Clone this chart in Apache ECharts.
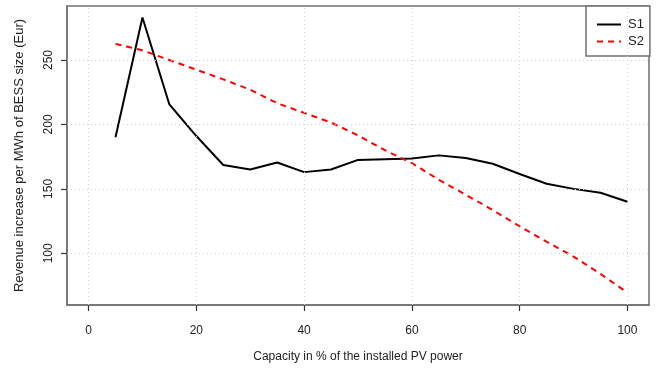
<!DOCTYPE html>
<html>
<head>
<meta charset="utf-8">
<script src="https://cdn.jsdelivr.net/npm/echarts@6/dist/echarts.min.js"></script>
<style>
html,body{margin:0;padding:0;background:#fff;}
#chart{width:660px;height:376px;}
</style>
</head>
<body>
<div id="chart"></div>
<script>
const capacity = [5,10,15,20,25,30,35,40,45,50,55,60,65,70,75,80,85,90,95,100];
const s1 = [190,283,215.5,191,168.5,165,170.5,163,165,172.5,173,173.5,176,174,169.5,161.5,154,150,147,140];
const s2 = [262.5,257.5,250,242.5,235,227,216.5,209,201.5,191.5,180,170,157,145.5,133.5,121,109,97.5,84,69.5];
const xTicks = [0,20,40,60,80,100];
const yTicks = [100,150,200,250];
const seriesNames = ['S1','S2'];
const xTitle = 'Capacity in % of the installed PV power';
const yTitle = 'Revenue increase per MWh of BESS size (Eur)';

const font = 'Liberation Sans, Arial, sans-serif';
const chart = echarts.init(document.getElementById('chart'), null, {renderer:'canvas'});
const gridLines = xTicks.map(v => ({xAxis: v})).concat(yTicks.map(v => ({yAxis: v})));

chart.setOption({
  animation: false,
  backgroundColor: '#fff',
  grid: {left: 67, right: 11, top: 6, bottom: 71, show: true, borderColor: '#707070', borderWidth: 1.5, backgroundColor: 'transparent', outerBoundsMode: 'none'},
  legend: {
    data: seriesNames, left: 586, top: 6, orient: 'vertical',
    padding: [12, 6, 8, 10], itemGap: 4, itemWidth: 24, itemHeight: 14,
    borderColor: '#707070', borderWidth: 1.5, backgroundColor: '#fff',
    itemStyle: {opacity: 0},
    textStyle: {fontFamily: font, fontSize: 13, color: '#222', padding: [0,0,0,2]}
  },
  xAxis: {
    type: 'value', min: -4, max: 104,
    name: xTitle, nameLocation: 'middle', nameGap: 46,
    nameTextStyle: {fontFamily: font, fontSize: 12, color: '#222'},
    axisLine: {show: true, onZero: false, lineStyle: {color: '#707070', width: 1.5}},
    axisTick: {show: true, inside: false, length: 6, customValues: xTicks, lineStyle: {color: '#333', width: 1.2}},
    axisLabel: {customValues: xTicks, margin: 20, fontFamily: font, fontSize: 12, color: '#222'},
    splitLine: {show: false}
  },
  yAxis: {
    type: 'value', min: 59.9, max: 291.9,
    name: yTitle, nameLocation: 'middle', nameGap: 41, nameRotate: 90,
    nameTextStyle: {fontFamily: font, fontSize: 13, color: '#222'},
    axisLine: {show: true, onZero: false, lineStyle: {color: '#707070', width: 1.5}},
    axisTick: {show: true, inside: false, length: 6, customValues: yTicks, lineStyle: {color: '#333', width: 1.2}},
    axisLabel: {customValues: yTicks, rotate: 90, margin: 12, fontFamily: font, fontSize: 12, color: '#222'},
    splitLine: {show: false}
  },
  series: [
    {
      name: 'grid', type: 'line', data: [], z: 1, silent: true,
      markLine: {silent: true, symbol: ['none','none'], label: {show: false},
        lineStyle: {color: '#cfcfcf', type: [1,3], width: 1}, animation: false, data: gridLines}
    },
    {
      name: seriesNames[0], type: 'line', z: 3, data: capacity.map((x,i) => [x, s1[i]]),
      showSymbol: false, symbol: 'none', color: '#000',
      lineStyle: {color: '#000', width: 2}
    },
    {
      name: seriesNames[1], type: 'line', z: 3, data: capacity.map((x,i) => [x, s2[i]]),
      showSymbol: false, symbol: 'none', color: '#ff0000',
      lineStyle: {color: '#ff0000', width: 2, type: [6,5]}
    }
  ]
});
</script>
</body>
</html>
